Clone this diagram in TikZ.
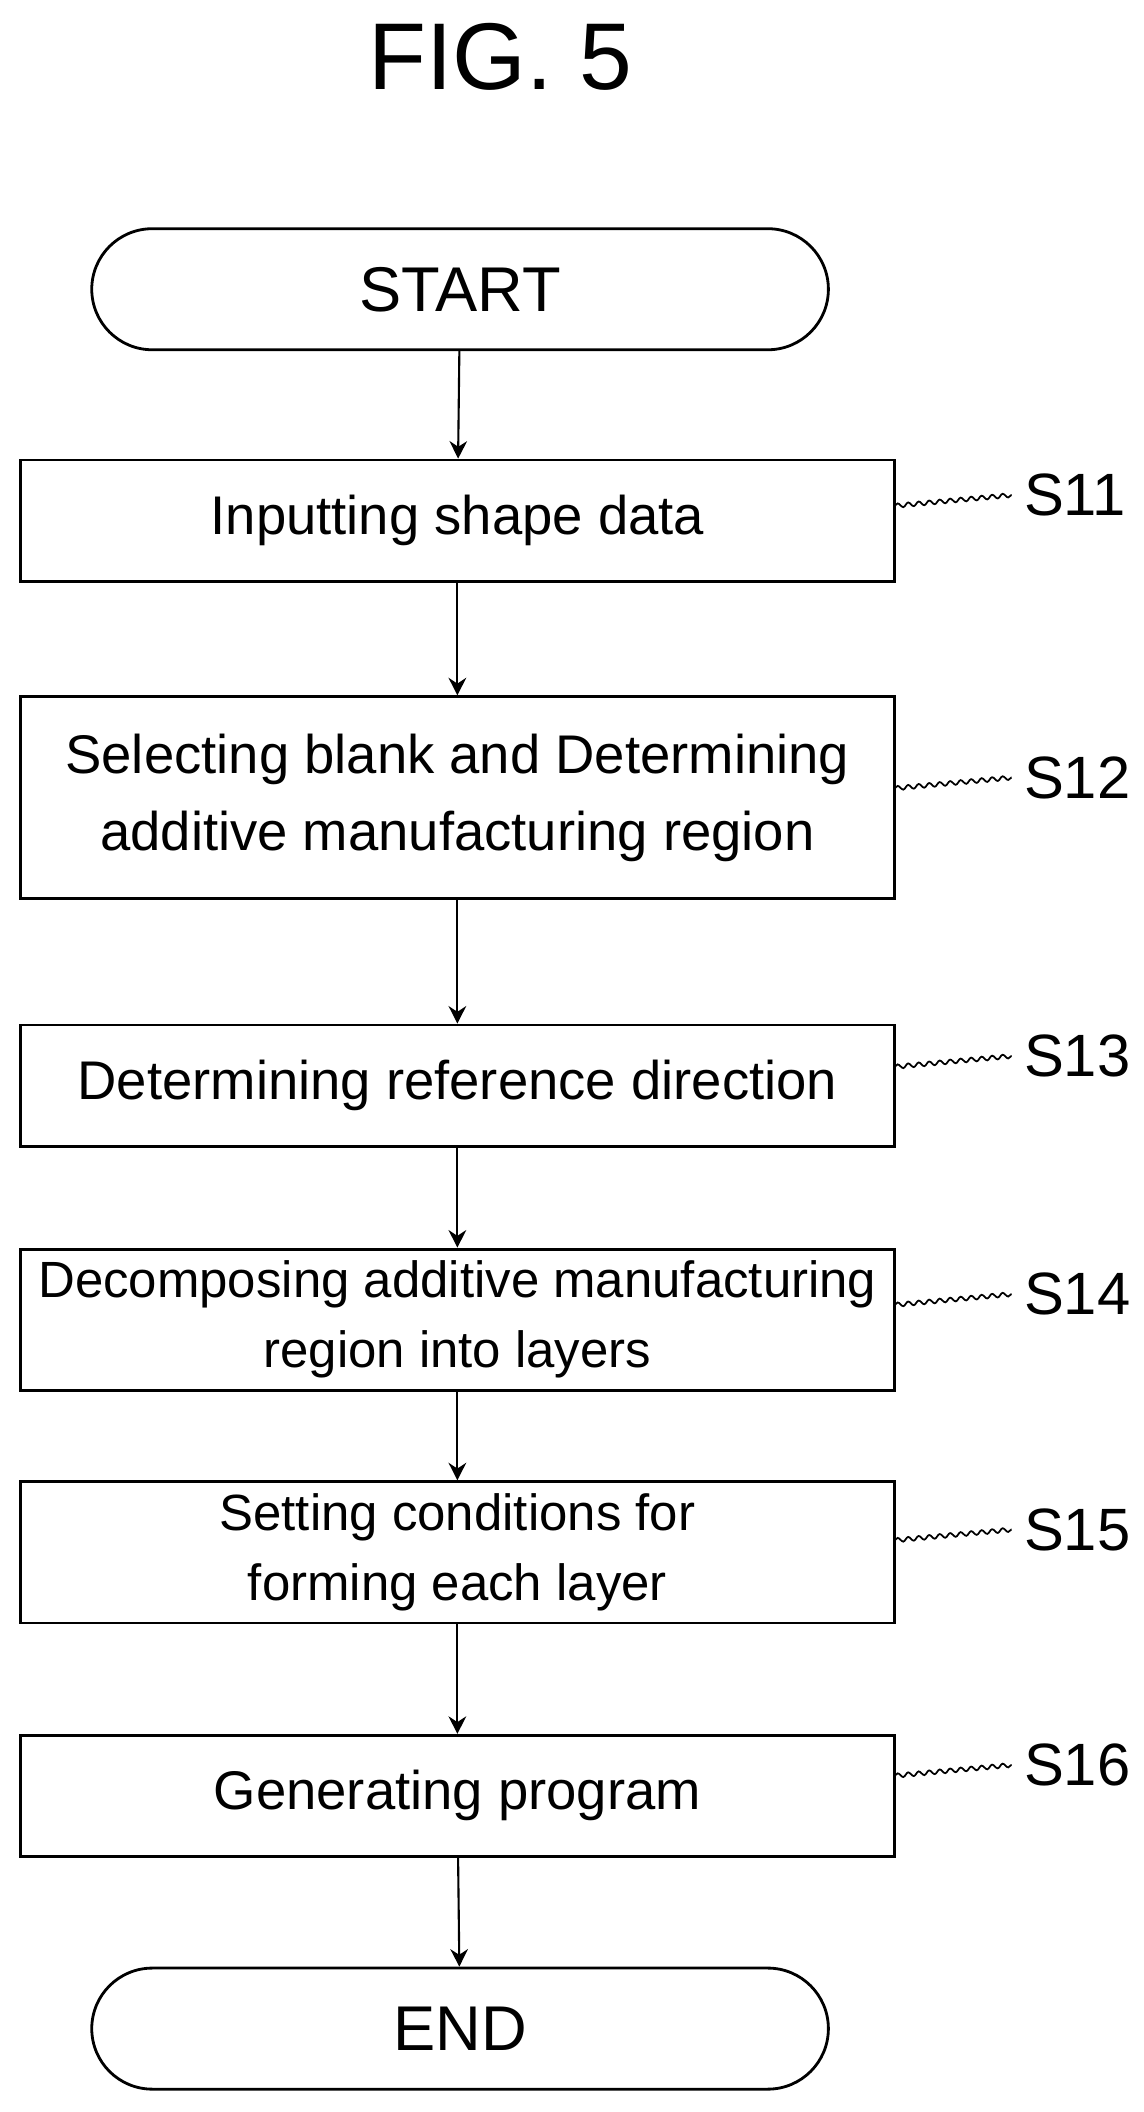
\documentclass[tikz,border=0pt]{standalone}
\usepackage{fontspec}
\setmainfont{Liberation Sans}
\usetikzlibrary{shapes.misc, arrows.meta, positioning, decorations.pathmorphing}

\begin{document}
\begin{tikzpicture}[x=0.01346cm, y=-0.01346cm,
    proc/.style={rectangle, draw, line width=0.8pt, minimum width=650*0.01346cm, align=center, font=\fontsize{15.5}{22}\selectfont},
    term/.style={rounded rectangle, draw, line width=0.8pt, minimum width=565*0.01346cm, minimum height=90*0.01346cm, font=\fontsize{18}{22}\selectfont},
    flow/.style={-{Stealth[length=5pt,width=5pt]}, line width=0.6pt},
    tag/.style={font=\fontsize{17}{20}\selectfont},
    wave/.style={decorate, decoration={snake, amplitude=0.6pt, segment length=3pt}, line width=0.5pt},
]
\useasboundingbox (0,0) rectangle (850,1570);

% title
\node[font=\fontsize{27}{30}\selectfont] (title) at (372,42) {FIG. 5};

% flow chart
\node[term] (start) at (342,215) {START};
\node[proc, minimum height=90*0.01346cm] (s11) at (340,387) {Inputting shape data};
\node[proc, minimum height=150*0.01346cm] (s12) at (340,593) {Selecting blank and Determining\\additive manufacturing region};
\node[proc, minimum height=90*0.01346cm] (s13) at (340,807) {Determining reference direction};
\node[proc, minimum height=92*0.01346cm, font=\fontsize{14.5}{20}\selectfont] (s14) at (340,981) {Decomposing additive manufacturing\\region into layers};
\node[proc, minimum height=92*0.01346cm, font=\fontsize{14.5}{20}\selectfont] (s15) at (340,1154) {Setting conditions for\\forming each layer};
\node[proc, minimum height=90*0.01346cm] (s16) at (340,1335) {Generating program};
\node[term] (end) at (342,1508) {END};

\draw[flow] (start) -- (s11);
\draw[flow] (s11) -- (s12);
\draw[flow] (s12) -- (s13);
\draw[flow] (s13) -- (s14);
\draw[flow] (s14) -- (s15);
\draw[flow] (s15) -- (s16);
\draw[flow] (s16) -- (end);

% step labels
\foreach \s/\y in {11/368, 12/578, 13/785, 14/962, 15/1137, 16/1312} {
  \node[tag, anchor=west] (l\s) at (752,\y) {S\s};
  \coordinate (w\s) at (665,\y+8);
  \draw[wave] (w\s) -- (l\s.west);
}
\end{tikzpicture}
\end{document}
